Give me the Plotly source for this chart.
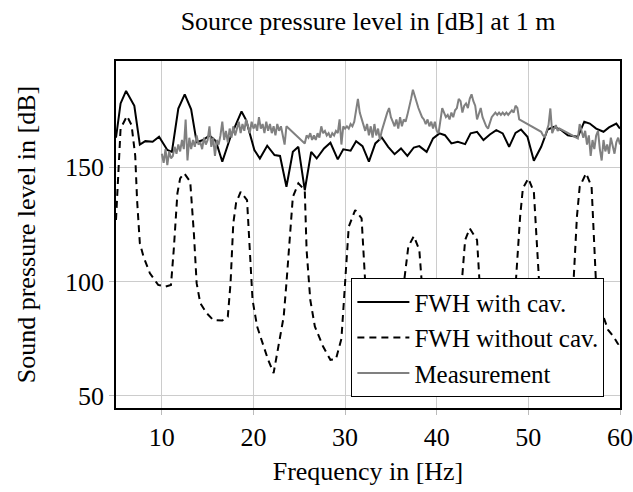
import numpy as np
import plotly.graph_objects as go

# FWH with cavity (solid)
fwh_cav_f = [5.0, 5.5, 6.1, 7.0, 7.6, 8.2, 9.0, 9.7, 10.6, 11.1, 11.8, 12.5, 13.2, 13.8, 14.5,
             15.2, 15.9, 16.6, 17.5, 18.7, 19.2, 20.1, 20.7, 21.5, 22.3, 22.9, 23.6, 24.3, 24.9,
             25.6, 26.3, 26.9, 27.7, 28.4, 29.2, 29.8, 30.6, 31.2, 31.9, 32.6, 33.3, 34.0, 34.7,
             35.4, 36.1, 36.8, 37.5, 38.1, 38.9, 39.6, 40.3, 40.9, 41.6, 42.3, 43.1, 43.7, 44.4,
             45.1, 45.8, 46.5, 47.2, 47.9, 48.6, 49.2, 49.9, 50.6, 51.4, 52.1, 52.8, 53.6, 54.3,
             54.9, 55.4, 56.1, 56.7, 57.4, 58.2, 58.8, 59.6, 60.0]
fwh_cav_db = [163, 178, 183.5, 177, 160, 161.5, 161.2, 163.4, 157.6, 156.8, 175.8, 182, 175.4, 161, 162,
              164, 161.5, 152.5, 163.4, 174.5, 170.7, 157.6, 153.9, 159.5, 155.4, 155, 141.5, 156.8, 159,
              140, 156.8, 153.9, 158.3, 160.8, 153.5, 157.9, 157.3, 161.5, 159.3, 152.5, 160.5, 163.1, 159,
              155.8, 158.3, 155, 158.7, 159.3, 156.8, 162.7, 164.9, 164.1, 160.5, 161.2, 160.2, 164.9, 165.6,
              162, 164.4, 166.3, 164.9, 159, 165.1, 166.6, 163.4, 152.9, 159, 166.6, 167.8, 166.3, 164.1,
              163.8, 163.4, 170, 169.2, 167, 165.6, 167.5, 169.2, 167]

# FWH without cavity (dashed)
fwh_nocav_f = [5.0, 5.5, 6.2, 6.7, 7.1, 7.3, 7.6, 8.0, 8.7, 9.6, 10.4, 11.0, 11.3, 11.7, 12.0, 12.45,
               13.1, 13.5, 13.8, 14.2, 14.9, 15.6, 16.6, 17.2, 17.5, 17.8, 18.1, 18.6, 19.3, 19.6,
               19.9, 20.4, 21.1, 21.6, 22.2, 22.7, 23.3, 23.6, 24.0, 24.3, 24.9, 25.6, 25.8, 26.2,
               26.7, 27.6, 28.4, 29.0, 29.6, 30.0, 30.4, 31.1, 31.8, 32.2, 32.7, 33.5, 34.5, 35.5,
               36.2, 36.5, 36.9, 37.5, 38.1, 38.4, 38.8, 39.7, 40.8, 41.8, 42.4, 42.7, 43.1, 43.6,
               44.4, 44.7, 45.2, 46.2, 47.2, 48.0, 48.6, 49.1, 49.4, 50.0, 50.6, 51.2, 51.7, 52.6,
               53.6, 54.4, 54.9, 55.3, 55.6, 56.3, 56.9, 57.4, 57.9, 58.7, 59.3, 59.8, 60.0]
fwh_nocav_db = [127, 167, 172.5, 168.5, 155, 135.7, 116.8, 110.9, 103.6, 98.5, 97.8, 98.5, 113.8, 138.6, 145.2, 147.4,
                143.7, 121.1, 99.3, 90.5, 86.1, 83.2, 82.9, 84.6, 99.3, 125.5, 134.3, 139.3, 135.7, 113.8,
                92, 80.3, 71.5, 65.7, 59.9, 71.5, 84.6, 99.3, 121.1, 137.1, 143, 140, 113.8, 92,
                80.3, 71.5, 65.7, 66, 75, 99.3, 124, 131.3, 127.7, 99.3, 80, 70, 68, 72,
                90, 102, 115.3, 119.9, 113.8, 97.8, 85, 72, 68, 74, 88, 97.8, 118.2, 123.3,
                118.2, 97.8, 85, 74, 72, 82, 97.8, 128.4, 140.8, 145.2, 139.3, 97.8, 82, 72,
                70, 80, 97.8, 128.4, 141.5, 147.4, 141.5, 97.8, 88, 78.8, 75.9, 72.5, 74]

# Measurement (grey), four segments sampled every 0.2 Hz
meas_step = 0.2
meas_a_start = 10.0
meas_a_db = [156, 152, 158, 151, 157, 154,
             155, 159, 156, 160, 157, 162, 158,
             171, 153,
             163, 158, 162, 159, 164, 160, 161, 158, 163, 160, 162,
             168, 159, 163, 155, 162,
             160, 164, 170, 162, 166, 161, 167, 163, 168, 164,
             167, 170, 165, 169, 166, 171, 168, 165, 170, 167, 169, 166,
             172, 167, 169, 165, 170, 166, 169, 165, 168, 164, 169, 166, 168, 163, 160, 168]
meas_b_start = 25.6
meas_b_db = [160.5, 164, 163, 165, 162, 164, 162, 165, 163, 168, 165, 166, 164, 165, 163, 165, 164, 166,
             165, 171, 160, 168, 167, 168, 167, 169, 168, 170, 176, 180, 174, 171, 168, 166, 169, 164,
             168, 163, 169, 164, 167, 162, 166, 169, 171, 174, 176, 172, 170, 168, 171, 167, 172, 168,
             171, 170, 173, 176, 180, 184, 181, 178, 176, 174, 172, 171, 169, 171, 168, 170, 167, 170,
             166, 165, 170, 176, 174, 172, 173, 171, 174, 172, 175, 176, 180, 179, 174, 177, 178, 176,
             180, 182, 179, 177, 171, 174, 176, 172, 170, 168, 167, 170, 172, 173, 174, 173, 174, 173,
             174, 173, 174, 173, 174, 175, 174, 177, 176, 171]
meas_c_start = 51.4
meas_c_db = [165.6, 164, 163.4, 166, 168.5, 175.8, 165, 167, 168.5, 166, 167]
meas_d_start = 55.4
meas_d_db = [162.7, 169, 166, 163, 166, 160, 164, 155, 162, 158, 164, 166, 158, 153, 162, 157, 160, 156,
             163, 159, 156, 161, 163, 160]

meas_f, meas_db = [], []
for start, vals in [(meas_a_start, meas_a_db), (meas_b_start, meas_b_db),
                    (meas_c_start, meas_c_db), (meas_d_start, meas_d_db)]:
    meas_f += [round(start + meas_step * i, 2) for i in range(len(vals))]
    meas_db += vals

x_ticks = [10, 20, 30, 40, 50, 60]
y_ticks = [50, 100, 150]

FONT = "Liberation Serif"
FS = 26

fig = go.Figure()
fig.add_trace(go.Scatter(x=fwh_cav_f, y=fwh_cav_db, mode="lines", name="FWH with cav.",
                         line=dict(color="black", width=2)))
fig.add_trace(go.Scatter(x=fwh_nocav_f, y=fwh_nocav_db, mode="lines", name="FWH without cav.",
                         line=dict(color="black", width=2, dash="7px,5px")))
fig.add_trace(go.Scatter(x=meas_f, y=meas_db, mode="lines", name="Measurement",
                         line=dict(color="#808080", width=2)))

fig.update_layout(
    width=633, height=492,
    margin=dict(l=116, r=13, t=61, b=84, autoexpand=False),
    paper_bgcolor="white", plot_bgcolor="white",
    font=dict(family=FONT, size=FS, color="black"),
    title=dict(text="Source pressure level in [dB] at 1 m", x=(116 + 620) / 2 / 633, xanchor="center",
               y=1 - 21 / 492, yanchor="middle", yref="container", font=dict(size=FS)),
    showlegend=True,
    legend=dict(x=0.969, y=0.031, xanchor="right", yanchor="bottom", bgcolor="white",
                bordercolor="black", borderwidth=1, font=dict(size=FS - 1), tracegroupgap=0,
                itemwidth=52),
)
fig.update_xaxes(range=[5, 60], tickvals=x_ticks, showgrid=True, gridcolor="#cccccc", gridwidth=1,
                 showline=True, linecolor="black", linewidth=1.5, mirror=True, zeroline=False,
                 ticks="outside", ticklen=5, tickcolor="#bbbbbb", tickfont=dict(size=FS),
                 title=dict(text="Frequency in [Hz]", standoff=11, font=dict(size=FS)))
fig.update_yaxes(range=[44.6, 196.6], tickvals=y_ticks, showgrid=True, gridcolor="#cccccc", gridwidth=1,
                 showline=True, linecolor="black", linewidth=1.5, mirror=True, zeroline=False,
                 ticks="outside", ticklen=5, tickcolor="#bbbbbb", tickfont=dict(size=FS),
                 title=dict(text="Sound pressure level in [dB]", standoff=22, font=dict(size=FS)))

fig.write_html("out.html")
